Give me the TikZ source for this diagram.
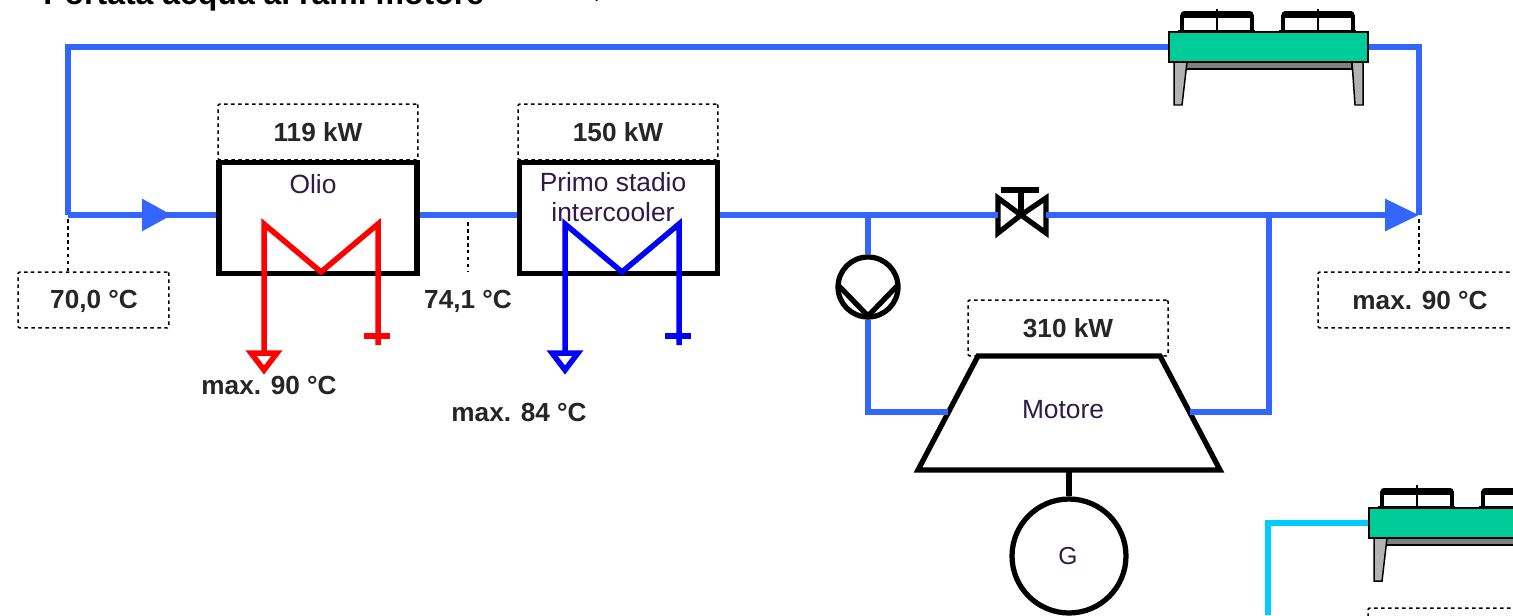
\documentclass[tikz,border=0pt]{standalone}
\usepackage{fontspec}
\setmainfont{Liberation Sans}
\usetikzlibrary{arrows.meta,shapes.geometric}

\definecolor{pipeblue}{HTML}{3366FF}
\definecolor{pipecyan}{HTML}{00CCFF}
\definecolor{coolergreen}{HTML}{00CC99}
\definecolor{namecolor}{HTML}{301848}

\tikzset{
  x=0.02cm, y=-0.02cm,
  pipe/.style={pipeblue, line width=0.12cm},
  thickline/.style={black, line width=0.105cm},
  hxbox/.style={draw, thickline, minimum width=3.96cm, minimum height=2.22cm, inner sep=0pt},
  dotbox/.style={draw, line width=0.03cm, dash pattern=on 0.07cm off 0.07cm, rounded corners=0.03cm, inner sep=0pt},
  dotline/.style={line width=0.03cm, dash pattern=on 0.07cm off 0.07cm},
  boldlabel/.style={font=\fontsize{14.9}{17}\selectfont\bfseries, text=black!85, inner sep=0pt},
  namelabel/.style={font=\fontsize{15}{17}\selectfont, text=namecolor, inner sep=0pt, align=center},
  pics/coil/.style={code={
    \draw[#1, line width=0.11cm, line join=miter] (-13,129) -- (13,129) -- (0,146) -- cycle;
    \draw[#1, line width=0.11cm, line join=miter]
      (0,129) -- (0,0) -- (57,48) -- (114,0) -- (114,121);
    \draw[#1, line width=0.11cm] (100,112) -- (126,112);
  }},
  pics/drycooler/.style={code={
    \foreach \fanx in {14,115} {
      \draw[line width=0.05cm] (\fanx-4,-1) -- (\fanx+73,-1);
      \draw[line width=0.03cm] (\fanx+35,-23) -- (\fanx+35,-1);
      \draw[line width=0.085cm] (\fanx,-1) -- (\fanx,-17);
      \draw[line width=0.085cm] (\fanx+70,-1) -- (\fanx+70,-17);
      \draw[line width=0.14cm, line cap=round] (\fanx+2,-17) -- (\fanx+68,-17);
    }
    \draw[line width=0.04cm, fill=gray] (18,30) rectangle (184,37);
    \draw[line width=0.03cm, fill=black!30] (6,30) -- (19,30) -- (14,73) -- (6,73) -- cycle;
    \draw[line width=0.03cm, fill=black!30] (184,30) -- (195,30) -- (195,73) -- (187,73) -- cycle;
    \node[draw, line width=0.04cm, fill=coolergreen, minimum width=3.98cm, minimum height=0.6cm, inner sep=0pt] (-body) at (100.5,15) {};
  }}
}

\begin{document}
\begin{tikzpicture}
\useasboundingbox (0,0) rectangle (1513,615);
\clip (0,0) rectangle (1513,615);

\node[anchor=base west, font=\fontsize{18.2}{20}\selectfont\bfseries, inner sep=0pt] (title) at (43,5) {Portata acqua ai rami motore};
\node[anchor=base, font=\fontsize{18}{20}\selectfont, inner sep=0pt] (titlecomma) at (597,-2) {,};

% coolers
\pic (coolertop) at (1168,32) {drycooler};
\pic (coolerlow) at (1368,508) {drycooler};

% water circuit
\coordinate (inlet) at (68,215);
\coordinate (outlet) at (1419,215);
\coordinate (arrowin) at (172,215);
\coordinate (teeleft) at (868,215);
\coordinate (teeright) at (1269,215);
\coordinate (engineleft) at (868,412);
\coordinate (engineright) at (1269,412);
\coordinate (enginewest) at (948,412);
\coordinate (engineeast) at (1190,412);
\coordinate (valve) at (1021,215);
\coordinate (valvewest) at (998,215);
\coordinate (valveeast) at (1046,215);
\coordinate (lowpipe) at (1268,615);

% heat exchangers
\node[hxbox] (oil) at (318,218) {};
\node[hxbox] (inter) at (618.5,218) {};
\pic at (264,224) {coil=red};
\pic at (565,224) {coil=blue};
\node[namelabel] (oilname) at (313,184) {Olio};
\node[namelabel] (intername) at (613,197) {Primo stadio\\intercooler};

\node[dotbox, minimum width=4cm, minimum height=1.12cm] (oilkw) at (318,132) {};
\node[boldlabel] (oilkwtext) at (318,132) {119 kW};
\node[dotbox, minimum width=4cm, minimum height=1.12cm] (interkw) at (618,132) {};
\node[boldlabel] (interkwtext) at (618,132) {150 kW};

% engine
\node[dotbox, minimum width=4cm, minimum height=1.12cm] (enginekw) at (1068,328) {};
\node[boldlabel] (enginekwtext) at (1068,328) {310 kW};
\coordinate (enginesouth) at (1069,470);
\draw[thickline, line join=miter] (978,356) -- (1160,356) -- (1220,470) -- (918,470) -- cycle;
\node[namelabel] (enginename) at (1063,410) {Motore};
\node[circle, draw, thickline, minimum size=2.28cm, inner sep=0pt] (gen) at (1069,556) {};
\node[namelabel, font=\fontsize{14}{16}\selectfont] (gentext) at (1068,556) {G};
\draw[thickline] (enginesouth) -- (gen.north);

% pump and valve
\node[circle, draw, thickline, minimum size=1.2cm, inner sep=0pt] (pump) at (868,287) {};
\coordinate (pumpv) at (868,316);
\draw[thickline, line join=miter] (839,286) -- (pumpv) -- (897,286);
\draw[thickline] (998,198) -- (valve) -- (1046,233) -- (1046,198) -- (valve) -- (998,233) -- cycle;
\draw[thickline] (valve) -- (1021,190);
\draw[thickline] (1001,190) -- (1039,190);

% pipes
\draw[pipe, line join=miter] (coolertop-body.west) -| (inlet);
\draw[pipe, line join=miter] (coolertop-body.east) -| (outlet);
\draw[pipe] (inlet) -- (inlet -| oil.west);
\draw[pipe, -{Triangle[length=0.6cm, width=0.62cm]}] (inlet) -- (arrowin);
\draw[pipe] (inlet -| oil.east) -- (inlet -| inter.west);
\draw[pipe] (inlet -| inter.east) -- (valvewest);
\draw[pipe, -{Triangle[length=0.68cm, width=0.62cm]}] (valveeast) -- (outlet);
\draw[pipe] (teeleft) -- (pump.north);
\draw[pipe, line join=miter] (pump.south) -- (engineleft) -- (enginewest);
\draw[pipe, line join=miter] (teeright) -- (engineright) -- (engineeast);
\draw[pipecyan, line width=0.12cm, line join=miter] (coolerlow-body.west) -| (lowpipe);

% temperatures
\node[dotbox, minimum width=3.02cm, minimum height=1.12cm] (tempin) at (93.5,300) {};
\node[boldlabel] (tempintext) at (94,301) {70,0 °C};
\coordinate (tempinpipe) at (68,219);
\draw[dotline] (tempinpipe) -- (tempinpipe |- tempin.north);

\node[boldlabel] (tempmid) at (468,301) {74,1 °C};
\coordinate (tempmidpipe) at (468,222);
\coordinate (tempmidend) at (468,272);
\draw[dotline] (tempmidpipe) -- (tempmidend);

\node[dotbox, minimum width=4cm, minimum height=1.12cm] (tempout) at (1418,300) {};
\node[boldlabel] (tempouttext) at (1420,300) {max. 90 °C};
\coordinate (tempoutpipe) at (1419,219);
\draw[dotline] (tempoutpipe) -- (tempoutpipe |- tempout.north);

\node[boldlabel] (oilmax) at (269,385) {max. 90 °C};
\node[boldlabel] (intermax) at (519,412) {max. 84 °C};

\node[dotbox, minimum width=4cm, minimum height=1.12cm] (lowbox) at (1468,636) {};
\end{tikzpicture}
\end{document}
